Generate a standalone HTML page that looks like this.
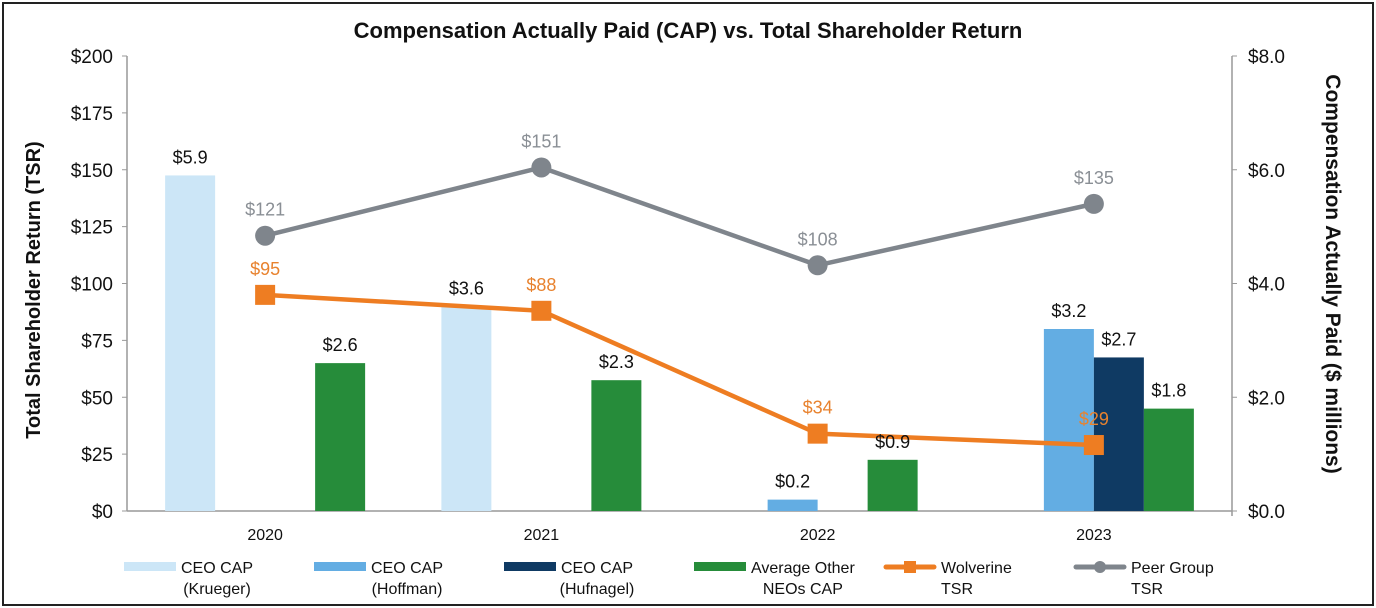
<!DOCTYPE html>
<html><head><meta charset="utf-8"><style>
body{margin:0;background:#fff;}
svg{font-family:"Liberation Sans",Arial,sans-serif;display:block}
</style></head><body>
<svg id="c" width="1376" height="608" viewBox="0 0 1376 608">
<rect x="3" y="3" width="1370" height="602" fill="#fff" stroke="#222" stroke-width="2"/>
<text x="688" y="38" text-anchor="middle" font-size="22" font-weight="bold" fill="#111">Compensation Actually Paid (CAP) vs. Total Shareholder Return</text>
<text transform="translate(40,290) rotate(-90)" text-anchor="middle" font-size="20" font-weight="bold" fill="#111">Total Shareholder Return (TSR)</text>
<text transform="translate(1326,274) rotate(90)" text-anchor="middle" font-size="21" font-weight="bold" fill="#111">Compensation Actually Paid ($ millions)</text>
<g id="g"></g>
</svg>
<script>
const years=["2020","2021","2022","2023"];
const krueger=[5.9,3.6,null,null];
const hoffman=[null,null,0.2,3.2];
const hufnagel=[null,null,null,2.7];
const otherNeos=[2.6,2.3,0.9,1.8];
const wolverine=[95,88,34,29];
const peer=[121,151,108,135];
const leftTicks=[0,25,50,75,100,125,150,175,200];
const rightTicks=[0,2,4,6,8];

const NS="http://www.w3.org/2000/svg";
const g=document.getElementById('g');
const X0=127,X1=1232,Y0=511,Y1=56;
const gw=(X1-X0)/years.length;
const cx=i=>X0+gw*(i+0.5);
const yL=v=>Y0-(v/200)*(Y0-Y1);
const yR=v=>Y0-(v/8)*(Y0-Y1);
function el(t,a,txt){const e=document.createElementNS(NS,t);for(const k in a)e.setAttribute(k,a[k]);if(txt!=null)e.textContent=txt;g.appendChild(e);return e;}

let e=el('line',{x1:X0,y1:Y1,x2:X0,y2:Y0,stroke:'#999','stroke-width':1.5});


e=el('line',{x1:X1,y1:Y1,x2:X1,y2:Y0+5,stroke:'#999','stroke-width':1.5});


e=el('line',{x1:X0,y1:Y0,x2:X1,y2:Y0,stroke:'#999','stroke-width':1.5});


leftTicks.forEach(v=>{
  el('line',{x1:X0-5,y1:yL(v),x2:X0,y2:yL(v),stroke:'#999'});
  const t=el('text',{x:X0-14,y:yL(v)+7,'text-anchor':'end','font-size':19,fill:'#111'},'$'+v);
  
  
});
rightTicks.forEach(v=>{
  el('line',{x1:X1,y1:yR(v),x2:X1+5,y2:yR(v),stroke:'#999'});
  const t=el('text',{x:X1+16,y:yR(v)+7,'font-size':19,fill:'#111'},'$'+v.toFixed(1));
  
  
});
years.forEach((y,i)=>{
  const t=el('text',{x:cx(i),y:Y0+29,'text-anchor':'middle','font-size':16,fill:'#111'},y);
  
  
});
const series=[[krueger,'#cce6f7','krueger'],[hoffman,'#63ade3','hoffman'],[hufnagel,'#0f3a63','hufnagel'],[otherNeos,'#268c3a','other-neos']];
const bw=50;
const labels=[];
series.forEach(([arr,col,nm],s)=>{
  arr.forEach((v,i)=>{
    if(v==null)return;
    const x=cx(i)-100+s*bw;
    const r=el('rect',{x:x,y:yR(v),width:bw,height:Y0-yR(v),fill:col});
    
    
    labels.push([x+bw/2,yR(v)-12,'$'+v.toFixed(1)]);
  });
});
function line(arr,col,nm,marker){
  const p=el('polyline',{points:arr.map((v,i)=>cx(i)+','+yL(v)).join(' '),fill:'none',stroke:col,'stroke-width':4.5});
  
  
  arr.forEach((v,i)=>{
    let m;
    if(marker==='c')m=el('circle',{cx:cx(i),cy:yL(v),r:10,fill:col});
    else m=el('rect',{x:cx(i)-10,y:yL(v)-10,width:20,height:20,fill:col});
    
    
    const t=el('text',{x:cx(i),y:yL(v)-20,'text-anchor':'middle','font-size':18,fill:col==='#7f858c'?'#8a8f95':'#e8822e'},'$'+v);
    
    
  });
}
line(peer,'#7f858c','peer-tsr','c');
line(wolverine,'#ee7d22','wolverine-tsr','s');
labels.forEach(([x,y,s])=>{
  const t=el('text',{x:x,y:y,'text-anchor':'middle','font-size':18,fill:'#111'},s);
  
  
});
const leg=[['CEO CAP','(Krueger)','#cce6f7','b'],['CEO CAP','(Hoffman)','#63ade3','b'],['CEO CAP','(Hufnagel)','#0f3a63','b'],['Average Other','NEOs CAP','#268c3a','b'],['Wolverine','TSR','#ee7d22','s'],['Peer Group','TSR','#7f858c','c']];
leg.forEach(([a,b,col,k],i)=>{
  const x=124+i*190;
  let m;
  if(k==='b')m=el('rect',{x:x,y:562,width:52,height:9,fill:col});
  else{
    el('line',{x1:x+2,y1:567,x2:x+50,y2:567,stroke:col,'stroke-width':5,'stroke-linecap':'round'});
    m=k==='s'?el('rect',{x:x+20,y:561,width:12,height:12,fill:col}):el('circle',{cx:x+26,cy:567,r:6,fill:col});
  }
  
  
  const tx=x+57;
  const t1=el('text',{x:tx,y:573,'font-size':16,fill:'#111'},a);
  
  
  const w=t1.getComputedTextLength();
  const t2=el('text',{x:k==='b'?tx+w/2:tx,y:594,'text-anchor':k==='b'?'middle':'start','font-size':16,fill:'#111'},b);
  
  
});
</script>
</body></html>
